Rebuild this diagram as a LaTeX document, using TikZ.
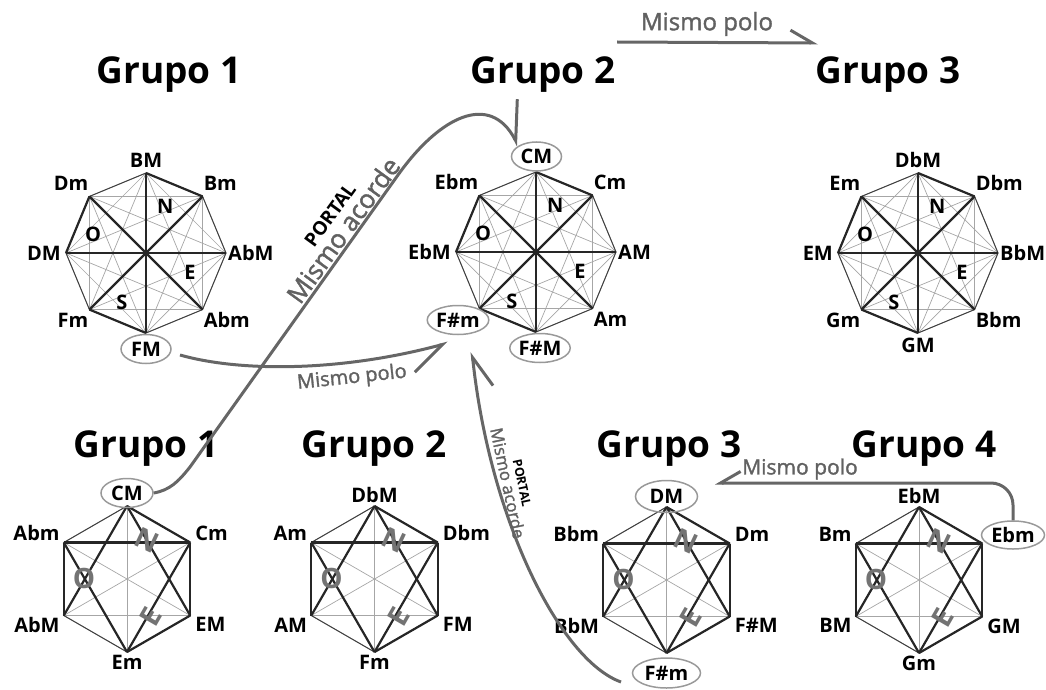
\documentclass[tikz,border=0pt]{standalone}
\usepackage{fontspec}
\setmainfont{Open Sans}
\newfontfamily\notefont{Open Sans}[FakeBold=1.5]
\usepackage{tikz}
\usetikzlibrary{shapes,arrows.meta,positioning,calc}

\newcommand{\lblfont}{\fontsize{20}{22}\selectfont\bfseries}
\newcommand{\hzfont}{\fontsize{28}{28}\selectfont\bfseries}
\newcommand{\ttlfont}{\fontsize{37}{40}\selectfont\bfseries}

\begin{document}
\begin{tikzpicture}[x=1pt, y=-1pt,
    chord/.style={black!35, line width=0.7pt},
    rim/.style={black!75, line width=1pt},
    heavy/.style={black!85, line width=2.2pt},
    lbl/.style={font=\lblfont, inner sep=1pt},
    pole/.style={ellipse, draw=black!40, line width=1.5pt, font=\lblfont, inner sep=0pt, minimum height=29pt, minimum width=#1},
    zone/.style={font=\lblfont, inner sep=0pt},
    hzone/.style={font=\hzfont, text=black!55, inner sep=0pt},
    title/.style={font=\ttlfont, anchor=base},
    note/.style={text=black!62, inner sep=0pt},
    conn/.style={draw=black!60, line width=3pt},
    harp/.style={-{Straight Barb[harpoon, length=#1, angle'=60]}},
    harpsw/.style={-{Straight Barb[harpoon, swap, length=#1, angle'=60]}},
    v0/.style={anchor=south, yshift=4pt},
    v1/.style={anchor=south west, yshift=5pt},
    v2/.style={anchor=west, xshift=1pt},
    v3/.style={anchor=north west, yshift=-2pt},
    v4/.style={anchor=north, yshift=-4pt},
    v5/.style={anchor=north east, yshift=-2pt},
    v6/.style={anchor=east, xshift=-4pt},
    v7/.style={anchor=south east, yshift=5pt},
    w0/.style={anchor=south, yshift=2pt},
    w1/.style={anchor=south west, xshift=4pt, yshift=1pt},
    w2/.style={anchor=north west, xshift=4pt, yshift=-1pt},
    w3/.style={anchor=north, yshift=-2pt},
    w4/.style={anchor=north east, xshift=-3pt, yshift=-1pt},
    w5/.style={anchor=south east, xshift=-3pt, yshift=1pt}
]
    \useasboundingbox (0,0) rectangle (1046,690);

    % Octagons (top row)
    \coordinate (o1) at (146,253);
    \coordinate (o2) at (536,252);
    \coordinate (o3) at (918,253);
    \foreach \g in {o1,o2,o3}{
        \foreach \i in {0,...,7}
            \path (\g) ++({45*\i-90}:80) coordinate (\g-\i);
        \foreach \i [evaluate=\i as \k using int(\i+1)] in {0,...,6}
            \foreach \j in {\k,...,7}
                \draw[chord] (\g-\i) -- (\g-\j);
        \draw[rim] (\g-0) -- (\g-1) -- (\g-2) -- (\g-3) -- (\g-4) -- (\g-5) -- (\g-6) -- (\g-7) -- cycle;
        \foreach \i [evaluate=\i as \k using int(\i+4)] in {0,...,3}
            \draw[heavy] (\g-\i) -- (\g-\k);
        \foreach \i/\j in {0/1,4/5,6/7}
            \draw[heavy] (\g-\i) -- (\g-\j);
        \path (\g) ++(-67.5:50) node[zone] (\g-N) {N};
        \path (\g) ++(24:48) node[zone] (\g-E) {E};
        \path (\g) ++(116:55) node[zone] (\g-S) {S};
        \path (\g) ++(-161:56) node[zone] (\g-O) {O};
    }

    % Hexagons (bottom row)
    \coordinate (h1) at (127,579);
    \coordinate (h2) at (374.5,579);
    \coordinate (h3) at (666.5,580);
    \coordinate (h4) at (919,580);
    \foreach \g in {h1,h2,h3,h4}{
        \foreach \i in {0,...,5}
            \path (\g) ++({60*\i-90}:73) coordinate (\g-\i);
        \foreach \i [evaluate=\i as \k using int(\i+1)] in {0,...,4}
            \foreach \j in {\k,...,5}
                \draw[chord] (\g-\i) -- (\g-\j);
        \draw[rim] (\g-0) -- (\g-1) -- (\g-2) -- (\g-3) -- (\g-4) -- (\g-5) -- cycle;
        \foreach \i/\j in {0/1,1/2,2/3,4/5,0/4,0/2,5/1,5/3,1/3}
            \draw[heavy] (\g-\i) -- (\g-\j);
        \node[hzone, rotate=-25] (\g-N) at ($(\g)+(20,-39)$) {N};
        \node[hzone] (\g-O) at ($(\g)+(-43,-1)$) {O};
        \node[hzone, rotate=60] (\g-E) at ($(\g)+(24,38)$) {E};
    }

    % Titles
    \node[title] (t-o1) at (169,84) {Grupo 1};
    \node[title] (t-o2) at (543,84) {Grupo 2};
    \node[title] (t-o3) at (888,84) {Grupo 3};
    \node[title] (t-h1) at (146,457) {Grupo 1};
    \node[title] (t-h2) at (374,457) {Grupo 2};
    \node[title] (t-h3) at (669,457) {Grupo 3};
    \node[title] (t-h4) at (924,457) {Grupo 4};

    % Chord names, octagons
    \node[lbl, v0] (o1-l0) at (o1-0) {BM};
    \node[lbl, v1] (o1-l1) at (o1-1) {Bm};
    \node[lbl, v2] (o1-l2) at (o1-2) {AbM};
    \node[lbl, v3] (o1-l3) at (o1-3) {Abm};
    \node[pole=50pt] (o1-l4) at (146,349) {FM};
    \node[lbl, v5] (o1-l5) at (o1-5) {Fm};
    \node[lbl, v6] (o1-l6) at (o1-6) {DM};
    \node[lbl, v7] (o1-l7) at (o1-7) {Dm};

    \node[pole=50pt] (o2-l0) at (536.5,156.5) {CM};
    \node[lbl, v1] (o2-l1) at (o2-1) {Cm};
    \node[lbl, v2] (o2-l2) at (o2-2) {AM};
    \node[lbl, v3] (o2-l3) at (o2-3) {Am};
    \node[pole=60pt] (o2-l4) at (540,348) {F\#M};
    \node[pole=56pt] (o2-l5) at (458,320) {F\#m};
    \node[lbl, v6] (o2-l6) at (o2-6) {EbM};
    \node[lbl, v7] (o2-l7) at (o2-7) {Ebm};

    \node[lbl, v0] (o3-l0) at (o3-0) {DbM};
    \node[lbl, v1] (o3-l1) at (o3-1) {Dbm};
    \node[lbl, v2] (o3-l2) at (o3-2) {BbM};
    \node[lbl, v3] (o3-l3) at (o3-3) {Bbm};
    \node[lbl, v4] (o3-l4) at (o3-4) {GM};
    \node[lbl, v5] (o3-l5) at (o3-5) {Gm};
    \node[lbl, v6] (o3-l6) at (o3-6) {EM};
    \node[lbl, v7] (o3-l7) at (o3-7) {Em};

    % Chord names, hexagons
    \node[pole=52pt] (h1-l0) at (127,493) {CM};
    \node[lbl, w1] (h1-l1) at (h1-1) {Cm};
    \node[lbl, w2] (h1-l2) at (h1-2) {EM};
    \node[lbl, w3] (h1-l3) at (h1-3) {Em};
    \node[lbl, w4] (h1-l4) at (h1-4) {AbM};
    \node[lbl, w5] (h1-l5) at (h1-5) {Abm};

    \node[lbl, w0] (h2-l0) at (h2-0) {DbM};
    \node[lbl, w1] (h2-l1) at (h2-1) {Dbm};
    \node[lbl, w2] (h2-l2) at (h2-2) {FM};
    \node[lbl, w3] (h2-l3) at (h2-3) {Fm};
    \node[lbl, w4] (h2-l4) at (h2-4) {AM};
    \node[lbl, w5] (h2-l5) at (h2-5) {Am};

    \node[pole=62pt, minimum height=32pt] (h3-l0) at (666.5,496.5) {DM};
    \node[lbl, w1] (h3-l1) at (h3-1) {Dm};
    \node[lbl, w2] (h3-l2) at (h3-2) {F\#M};
    \node[pole=68pt, minimum height=30pt] (h3-l3) at (666.5,673) {F\#m};
    \node[lbl, w4] (h3-l4) at (h3-4) {BbM};
    \node[lbl, w5] (h3-l5) at (h3-5) {Bbm};

    \node[lbl, w0] (h4-l0) at (h4-0) {EbM};
    \node[pole=63pt, minimum height=28pt] (h4-l1) at (1013,535) {Ebm};
    \node[lbl, w2] (h4-l2) at (h4-2) {GM};
    \node[lbl, w3] (h4-l3) at (h4-3) {Gm};
    \node[lbl, w4] (h4-l4) at (h4-4) {BM};
    \node[lbl, w5] (h4-l5) at (h4-5) {Bm};

    % Connectors
    \coordinate (top-a) at (617,42);
    \coordinate (top-b) at (818,43);
    \draw[conn, harp=22pt] (top-a) -- (top-b);
    \node[note, font=\notefont\fontsize{24}{26}\selectfont] (top-txt) at (707,24) {Mismo polo};

    \coordinate (mid-a) at (180,355);
    \coordinate (mid-b) at (448,343);
    \draw[conn, harpsw=34pt] (mid-a) .. controls (240,372) and (340,372) .. (mid-b);
    \node[note, rotate=6, font=\notefont\fontsize{20}{22}\selectfont] (mid-txt) at (352,378) {Mismo polo};

    \draw[conn, harp=36pt] (h1-l0.east) .. controls (170,490) and (178,482) .. (190,467)
        -- (398,175) .. controls (440,116) and (490,92) .. (o2-l0.north west);
    \node[note, rotate=54, font=\notefont\fontsize{26}{28}\selectfont] (p1-txt) at (343,230) {Mismo acorde};
    \node[rotate=54, inner sep=0pt, font=\fontsize{19}{20}\selectfont\bfseries] (p1-hd) at (330,215) {PORTAL};

    \coordinate (p2-a) at (621,682);
    \coordinate (p2-b) at (472,352);
    \draw[conn, harpsw=30pt] (p2-a) .. controls (560,660) and (490,520) .. (p2-b);
    \node[note, rotate=-78, font=\notefont\fontsize{17}{18}\selectfont] (p2-txt) at (508,483) {Mismo acorde};
    \node[rotate=-78, inner sep=0pt, font=\fontsize{12.5}{14}\selectfont\bfseries] (p2-hd) at (522,483) {PORTAL};

    \coordinate (g34-b) at (715,483);
    \draw[conn, harpsw=20pt, rounded corners=22pt] (h4-l1.north) |- (g34-b);
    \node[note, font=\notefont\fontsize{21}{22}\selectfont] (g34-txt) at (800,469) {Mismo polo};
\end{tikzpicture}
\end{document}
